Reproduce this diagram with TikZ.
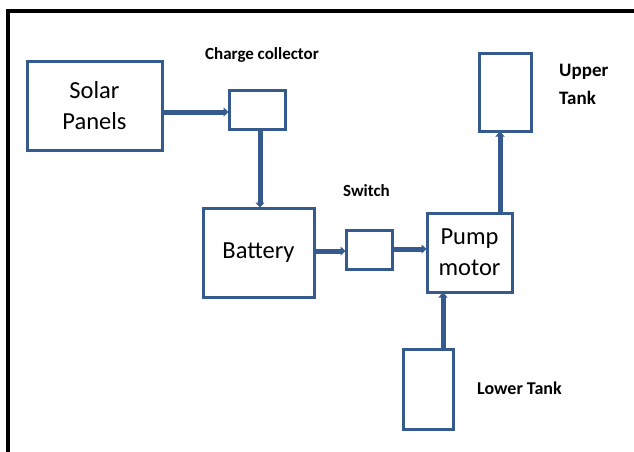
\documentclass[tikz,border=0pt]{standalone}
\usepackage{fontspec}
\setmainfont{Carlito}
\usetikzlibrary{arrows.meta}
\definecolor{boxblue}{HTML}{355A8E}
\tikzset{
  blk/.style={draw=boxblue, line width=3pt, fill=white, inner sep=0pt, align=center, font=\fontsize{24.5}{31}\selectfont},
  lbl/.style={font=\bfseries\fontsize{17}{27}\selectfont, inner sep=0pt, align=left},
  flow/.style={draw=boxblue, line width=5pt, -{Triangle[length=5pt,width=9pt]}, shorten >=-1pt}
}
\begin{document}
\begin{tikzpicture}[x=1pt,y=-1pt]
\useasboundingbox (0,0) rectangle (634,452);
\fill[white] (0,0) rectangle (634,452);
% frame
\draw[black, line width=4pt] (8,460) -- (8,11) -- (640,11);
% boxes
\node[blk, minimum width=135pt, minimum height=88pt] (solar) at (94.5,106) {Solar\\Panels};
\node[blk, minimum width=56pt, minimum height=39pt] (cc) at (257,109.5) {};
\node[blk, minimum width=111pt, minimum height=89pt] (bat) at (258.5,252.5) {Battery};
\node[blk, minimum width=46pt, minimum height=39pt] (sw) at (369,249.5) {};
\node[blk, minimum width=85pt, minimum height=79pt] (pump) at (469.5,252.5) {Pump\\motor};
\node[blk, minimum width=52pt, minimum height=77pt] (upper) at (505,92.5) {};
\node[blk, minimum width=50pt, minimum height=80pt] (lower) at (428,389) {};
% labels
\node[lbl] (cclbl) at (262,55) {Charge collector};
\node[lbl] (swlbl) at (366.5,191) {Switch};
\node[lbl, anchor=west, font=\bfseries\fontsize{19}{28}\selectfont] (uplbl) at (559,84) {Upper\\Tank};
\node[lbl, anchor=west, font=\bfseries\fontsize{18}{27}\selectfont] (lolbl) at (477,388) {Lower Tank};
% connectors
\draw[flow] (solar.east |- 0,112) -- (cc.west |- 0,112);
\draw[flow] (cc.south -| 260,0) -- (bat.north -| 260,0);
\draw[flow] (bat.east |- 0,251) -- (sw.west |- 0,251);
\draw[flow] (sw.east |- 0,249) -- (pump.west |- 0,249);
\draw[flow] (pump.north -| 500,0) -- (upper.south -| 500,0);
\draw[flow] (lower.north -| 443,0) -- (pump.south -| 443,0);
\end{tikzpicture}
\end{document}
